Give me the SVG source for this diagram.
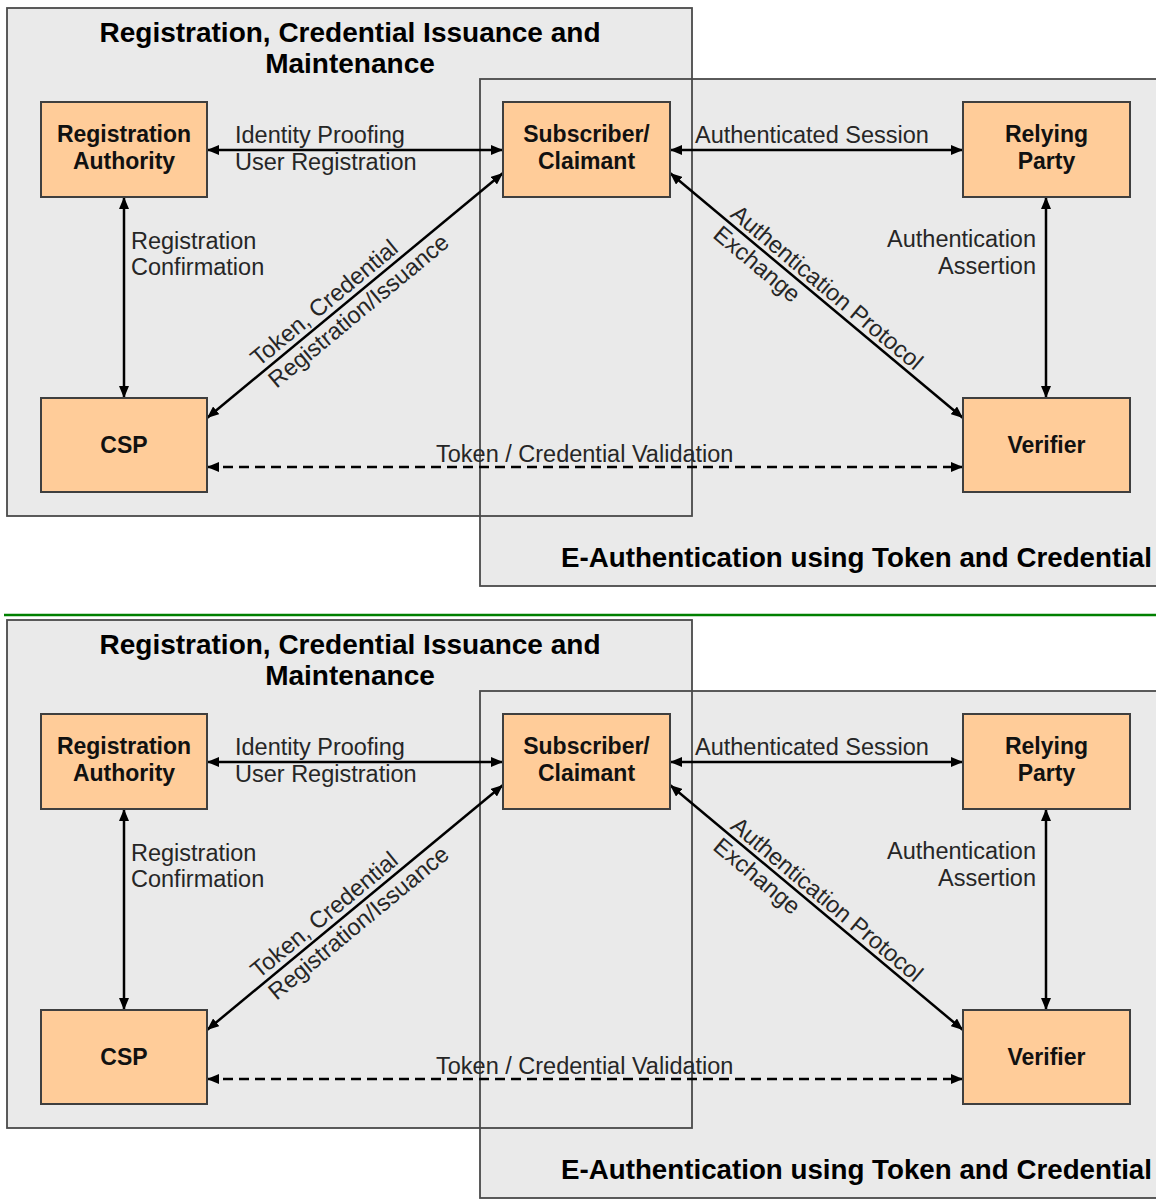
<svg xmlns="http://www.w3.org/2000/svg" width="1156" height="1199" viewBox="0 0 1156 1199">
<style>
.bg{fill:#ffffff}
.zone{fill:#eaeaea;stroke:none}
.zoneline{fill:none;stroke:#4a4a4a;stroke-width:1.8}
.nb{fill:#ffcc99;stroke:#3f3f3f;stroke-width:2}
.title{font-family:"Liberation Sans",Arial,sans-serif;font-weight:bold;font-size:28px;fill:#000}
.nt{font-family:"Liberation Sans",Arial,sans-serif;font-weight:bold;font-size:23px;fill:#111;text-anchor:middle}
.lbl{font-family:"Liberation Sans",Arial,sans-serif;font-size:23.5px;fill:#262626}
.c{fill:none;stroke:#000;stroke-width:2.5;marker-start:url(#ah);marker-end:url(#ah)}
.dash{stroke-dasharray:10 6}
.sep{stroke:#008000;stroke-width:2.5}
</style>
<defs>
<marker id="ah" viewBox="0 0 12 10" refX="12" refY="5" markerWidth="12" markerHeight="10" markerUnits="userSpaceOnUse" orient="auto-start-reverse">
<path d="M0,0 L12,5 L0,10 z" fill="#000"/>
</marker>
</defs>
<rect class="bg" x="0" y="0" width="1156" height="1199"/>

<g id="copy-top">
  <g id="top-zones">
    <rect class="zone" x="7" y="8" width="685" height="508"/>
    <rect class="zone" x="480" y="79" width="690" height="507"/>
    <rect class="zoneline" x="7" y="8" width="685" height="508"/>
    <rect class="zoneline" x="480" y="79" width="690" height="507"/>
    <text class="title" x="350" y="42" text-anchor="middle">Registration, Credential Issuance and</text>
    <text class="title" x="350" y="73" text-anchor="middle">Maintenance</text>
    <text class="title" x="561" y="567" textLength="591" lengthAdjust="spacingAndGlyphs">E-Authentication using Token and Credential</text>
  </g>
  <g id="top-connectors">
    <line class="c" x1="207" y1="150" x2="503" y2="150"/>
    <line class="c" x1="670" y1="150" x2="963" y2="150"/>
    <line class="c" x1="124" y1="197" x2="124" y2="398"/>
    <line class="c" x1="1046" y1="197" x2="1046" y2="398"/>
    <line class="c" x1="207" y1="418" x2="503" y2="173"/>
    <line class="c" x1="670" y1="173" x2="963" y2="418"/>
    <line class="c dash" x1="207" y1="467" x2="963" y2="467"/>
    <text class="lbl" x="235" y="143">Identity Proofing</text>
    <text class="lbl" x="235" y="170">User Registration</text>
    <text class="lbl" x="695" y="143">Authenticated Session</text>
    <text class="lbl" x="131" y="249">Registration</text>
    <text class="lbl" x="131" y="275">Confirmation</text>
    <text class="lbl" x="1036" y="247" text-anchor="end">Authentication</text>
    <text class="lbl" x="1036" y="274" text-anchor="end">Assertion</text>
    <text class="lbl" x="436" y="462">Token / Credential Validation</text>
    <g transform="translate(355,295.5) rotate(-39.6)">
      <text class="lbl" x="-120" y="-6">Token, Credential</text>
      <text class="lbl" x="-120" y="22">Registration/Issuance</text>
    </g>
    <g transform="translate(816.5,295.5) rotate(39.9)">
      <text class="lbl" x="-118" y="-5">Authentication Protocol</text>
      <text class="lbl" x="-118" y="22">Exchange</text>
    </g>
  </g>
  <g id="top-ra"><rect class="nb" x="41" y="102" width="166" height="95"/><text class="nt" x="124" y="142">Registration</text><text class="nt" x="124" y="169">Authority</text></g>
  <g id="top-subscriber"><rect class="nb" x="503" y="102" width="167" height="95"/><text class="nt" x="586.5" y="142">Subscriber/</text><text class="nt" x="586.5" y="169">Claimant</text></g>
  <g id="top-rp"><rect class="nb" x="963" y="102" width="167" height="95"/><text class="nt" x="1046.5" y="142">Relying</text><text class="nt" x="1046.5" y="169">Party</text></g>
  <g id="top-csp"><rect class="nb" x="41" y="398" width="166" height="94"/><text class="nt" x="124" y="453">CSP</text></g>
  <g id="top-verifier"><rect class="nb" x="963" y="398" width="167" height="94"/><text class="nt" x="1046.5" y="453">Verifier</text></g>
</g>

<line id="separator" class="sep" x1="4" y1="615" x2="1156" y2="615"/>

<g id="copy-bottom" transform="translate(0,612)">
  <g id="bottom-zones">
    <rect class="zone" x="7" y="8" width="685" height="508"/>
    <rect class="zone" x="480" y="79" width="690" height="507"/>
    <rect class="zoneline" x="7" y="8" width="685" height="508"/>
    <rect class="zoneline" x="480" y="79" width="690" height="507"/>
    <text class="title" x="350" y="42" text-anchor="middle">Registration, Credential Issuance and</text>
    <text class="title" x="350" y="73" text-anchor="middle">Maintenance</text>
    <text class="title" x="561" y="567" textLength="591" lengthAdjust="spacingAndGlyphs">E-Authentication using Token and Credential</text>
  </g>
  <g id="bottom-connectors">
    <line class="c" x1="207" y1="150" x2="503" y2="150"/>
    <line class="c" x1="670" y1="150" x2="963" y2="150"/>
    <line class="c" x1="124" y1="197" x2="124" y2="398"/>
    <line class="c" x1="1046" y1="197" x2="1046" y2="398"/>
    <line class="c" x1="207" y1="418" x2="503" y2="173"/>
    <line class="c" x1="670" y1="173" x2="963" y2="418"/>
    <line class="c dash" x1="207" y1="467" x2="963" y2="467"/>
    <text class="lbl" x="235" y="143">Identity Proofing</text>
    <text class="lbl" x="235" y="170">User Registration</text>
    <text class="lbl" x="695" y="143">Authenticated Session</text>
    <text class="lbl" x="131" y="249">Registration</text>
    <text class="lbl" x="131" y="275">Confirmation</text>
    <text class="lbl" x="1036" y="247" text-anchor="end">Authentication</text>
    <text class="lbl" x="1036" y="274" text-anchor="end">Assertion</text>
    <text class="lbl" x="436" y="462">Token / Credential Validation</text>
    <g transform="translate(355,295.5) rotate(-39.6)">
      <text class="lbl" x="-120" y="-6">Token, Credential</text>
      <text class="lbl" x="-120" y="22">Registration/Issuance</text>
    </g>
    <g transform="translate(816.5,295.5) rotate(39.9)">
      <text class="lbl" x="-118" y="-5">Authentication Protocol</text>
      <text class="lbl" x="-118" y="22">Exchange</text>
    </g>
  </g>
  <g id="bottom-ra"><rect class="nb" x="41" y="102" width="166" height="95"/><text class="nt" x="124" y="142">Registration</text><text class="nt" x="124" y="169">Authority</text></g>
  <g id="bottom-subscriber"><rect class="nb" x="503" y="102" width="167" height="95"/><text class="nt" x="586.5" y="142">Subscriber/</text><text class="nt" x="586.5" y="169">Claimant</text></g>
  <g id="bottom-rp"><rect class="nb" x="963" y="102" width="167" height="95"/><text class="nt" x="1046.5" y="142">Relying</text><text class="nt" x="1046.5" y="169">Party</text></g>
  <g id="bottom-csp"><rect class="nb" x="41" y="398" width="166" height="94"/><text class="nt" x="124" y="453">CSP</text></g>
  <g id="bottom-verifier"><rect class="nb" x="963" y="398" width="167" height="94"/><text class="nt" x="1046.5" y="453">Verifier</text></g>
</g>
</svg>
